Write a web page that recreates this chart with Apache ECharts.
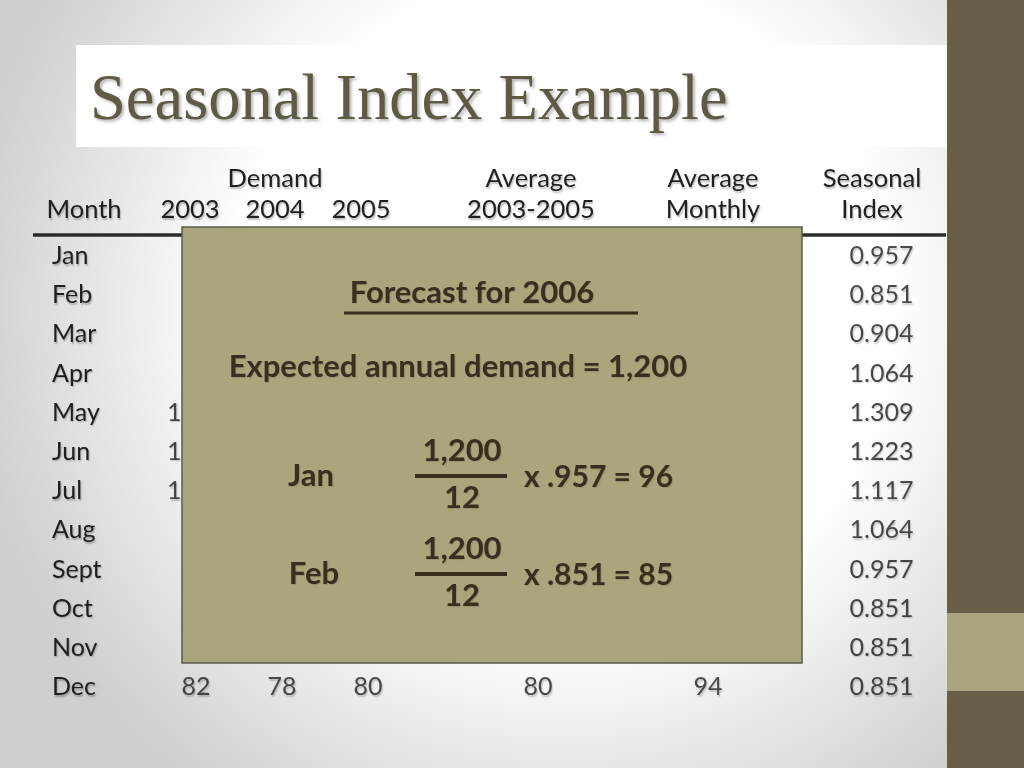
<!DOCTYPE html>
<html><head><meta charset="utf-8">
<script src="https://cdn.jsdelivr.net/npm/echarts@6/dist/echarts.min.js"></script>
<style>html,body{margin:0;padding:0;background:#fff}#c{width:1024px;height:768px}</style>
</head><body><div id="c"></div>
<script>
// ---- data ----
var MONTHS = ['Jan','Feb','Mar','Apr','May','Jun','Jul','Aug','Sept','Oct','Nov','Dec'];
var COLUMNS = ['2003','2004','2005','Average 2003-2005','Average Monthly','Seasonal Index'];
var D2003 = [80, 70, 80, 90, 113, 110, 100, 88, 85, 77, 75, 82];
var D2004 = [85, 85, 93, 95, 125, 115, 102, 102, 90, 78, 82, 78];
var D2005 = [105, 85, 82, 115, 131, 120, 113, 110, 95, 85, 83, 80];
var AVG_0305 = [90, 80, 85, 100, 123, 115, 105, 100, 90, 80, 80, 80];
var AVG_MONTHLY = [94, 94, 94, 94, 94, 94, 94, 94, 94, 94, 94, 94];
var SEASONAL_INDEX = [0.957, 0.851, 0.904, 1.064, 1.309, 1.223, 1.117, 1.064, 0.957, 0.851, 0.851, 0.851];
var FORECAST_ANNUAL = 1200;
var PERIODS = 12;

// ---- layout / style ----
var FONT = "Lato, 'Open Sans', sans-serif";
var INK = '#1f1f1f';
var BOXINK = '#382f1f';
var COL_RIGHT = [211, 297, 383, 553, 723, 914];
var ROW_TOP = 236.4, ROW_BOTTOM = 61.4;
var BODY = 25, HEAD = 25.5, BOX = 31;
var SHADOW = {textShadowColor:'rgba(0,0,0,0.25)', textShadowBlur:1.5, textShadowOffsetX:1, textShadowOffsetY:1.5};

var seriesValues = [D2003, D2004, D2005, AVG_0305, AVG_MONTHLY, SEASONAL_INDEX];
var grids = [], xAxes = [], yAxes = [], series = [];
COLUMNS.forEach(function(col, i){
  grids.push({left: COL_RIGHT[i]-20, width: 40, top: ROW_TOP, bottom: ROW_BOTTOM});
  xAxes.push({type:'category', gridIndex:i, data:[col], show:false});
  yAxes.push({type:'category', gridIndex:i, data:MONTHS, inverse:true,
    axisLine:{show:false}, axisTick:{show:false}, splitLine:{show:false},
    axisLabel: i===0 ? Object.assign({show:true, align:'left', margin:(COL_RIGHT[0]-20)-52,
      color:INK, fontFamily:FONT, fontSize:BODY}, SHADOW) : {show:false}});
  series.push({type:'scatter', xAxisIndex:i, yAxisIndex:i, symbolSize:1,
    itemStyle:{color:'rgba(0,0,0,0)'}, silent:true,
    data: MONTHS.map(function(m,j){ return [col, m, seriesValues[i][j]]; }),
    label: Object.assign({show:true, position:'left', distance:0, color:INK, fontFamily:FONT, fontSize:BODY,
      formatter:function(p){ var v=p.value[2]; return i===5 ? v.toFixed(3) : String(v); }}, SHADOW)
  });
});

function txt(x, y, s, size, opt){
  return {type:'text', x:x, y:y, z:100, style:Object.assign({text:s, fill:INK, font:size+'px '+FONT,
    align:'center', verticalAlign:'middle'}, SHADOW, opt||{})};
}
function btxt(x, y, s, size, opt){
  return {type:'text', x:x, y:y, z:120, style:Object.assign({text:s, fill:BOXINK, font:'bold '+size+'px '+FONT,
    align:'center', verticalAlign:'middle', textShadowColor:'rgba(0,0,0,0.12)', textShadowBlur:1, textShadowOffsetX:1, textShadowOffsetY:1}, opt||{})};
}
function fmt(n){ return n.toLocaleString('en-US'); }

var graphics = [
  {type:'rect', z:-10, shape:{x:0,y:0,width:1024,height:768},
    style:{fill:{type:'radial', x:0.55, y:0.4, r:0.78, colorStops:[{offset:0,color:'#ffffff'},{offset:0.55,color:'#ffffff'},{offset:1,color:'#cfcfcf'}]}}},
  {type:'rect', z:-5, shape:{x:76,y:45,width:872,height:102}, style:{fill:'#ffffff'}},
  {type:'rect', z:-5, shape:{x:947,y:0,width:77,height:768}, style:{fill:'#675e47'}},
  {type:'rect', z:-4, shape:{x:947,y:613,width:77,height:78}, style:{fill:'#a8a47d'}},
  {type:'text', x:90, y:102, z:50, style:{text:'Seasonal Index Example', fill:'#5e5a43',
    font:'64.5px "Liberation Serif", "DejaVu Serif", serif', align:'left', verticalAlign:'middle',
    textShadowColor:'rgba(0,0,0,0.3)', textShadowBlur:3, textShadowOffsetX:2, textShadowOffsetY:2}},
  txt(275, 179, 'Demand', HEAD),
  txt(84, 210, 'Month', HEAD),
  txt(190, 210, '2003', HEAD), txt(275, 210, '2004', HEAD), txt(361, 210, '2005', HEAD),
  txt(531, 179, 'Average', HEAD), txt(531, 210, '2003-2005', HEAD),
  txt(713, 179, 'Average', HEAD), txt(713, 210, 'Monthly', HEAD),
  txt(872, 179, 'Seasonal', HEAD), txt(872, 210, 'Index', HEAD),
  {type:'line', z:60, shape:{x1:33,y1:235,x2:946,y2:235}, style:{stroke:'#2b2b2b', lineWidth:3.5}},
  {type:'rect', z:110, shape:{x:182,y:227,width:620,height:436}, style:{fill:'#a9a67d', stroke:'#5b5a4b', lineWidth:1.5}},
  btxt(472, 293, 'Forecast for 2006', BOX),
  {type:'line', z:120, shape:{x1:344,y1:313,x2:638,y2:313}, style:{stroke:BOXINK, lineWidth:3}},
  btxt(458, 367, 'Expected annual demand = ' + fmt(FORECAST_ANNUAL), BOX),
  btxt(311, 476, 'Jan', BOX),
  btxt(462, 451, fmt(FORECAST_ANNUAL), BOX),
  {type:'line', z:120, shape:{x1:415,y1:476,x2:507,y2:476}, style:{stroke:BOXINK, lineWidth:4}},
  btxt(462, 498, String(PERIODS), BOX),
  btxt(524, 477, 'x ' + SEASONAL_INDEX[0].toFixed(3).slice(1) + ' = ' + Math.round(FORECAST_ANNUAL/PERIODS*SEASONAL_INDEX[0]), BOX - 1, {align:'left'}),
  btxt(314, 574, 'Feb', BOX),
  btxt(462, 549, fmt(FORECAST_ANNUAL), BOX),
  {type:'line', z:120, shape:{x1:415,y1:574,x2:507,y2:574}, style:{stroke:BOXINK, lineWidth:4}},
  btxt(462, 596, String(PERIODS), BOX),
  btxt(524, 575, 'x ' + SEASONAL_INDEX[1].toFixed(3).slice(1) + ' = ' + Math.round(FORECAST_ANNUAL/PERIODS*SEASONAL_INDEX[1]), BOX - 1, {align:'left'})
];

var chart = echarts.init(document.getElementById('c'), null, {renderer:'canvas'});
chart.setOption({
  animation:false,
  backgroundColor:'#ffffff',
  grid:grids, xAxis:xAxes, yAxis:yAxes, series:series,
  graphic:{elements:graphics}
});
</script></body></html>
